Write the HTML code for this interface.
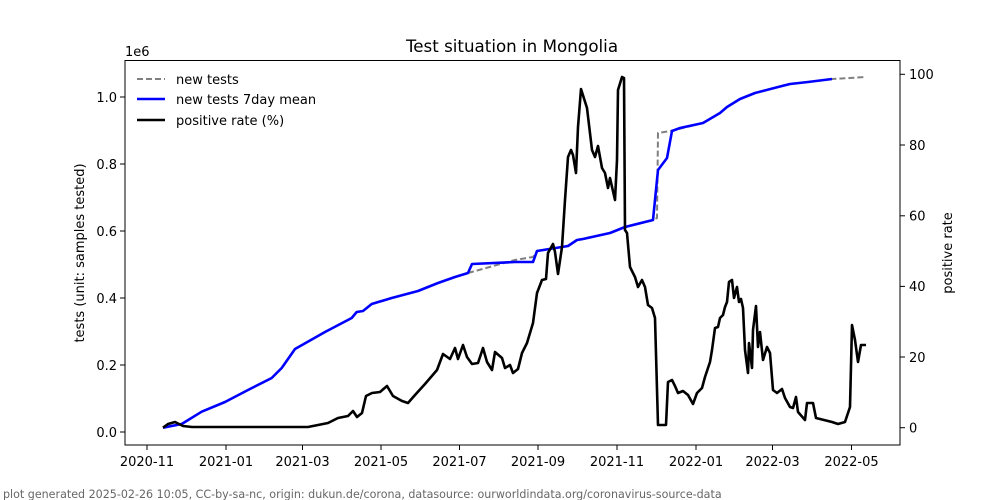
<!DOCTYPE html>
<html><head><meta charset="utf-8"><style>
body{margin:0;background:#fff}
svg{display:block;font-family:"DejaVu Sans","Liberation Sans",sans-serif}
</style></head><body>
<svg width="1000" height="500" viewBox="0 0 1000 500" xmlns="http://www.w3.org/2000/svg">
<rect width="1000" height="500" fill="#fff"/>
<text x="512" y="52" font-size="16.7" text-anchor="middle">Test situation in Mongolia</text>
<text x="125" y="56" font-size="13">1e6</text>
<polyline fill="none" stroke="#808080" stroke-width="2" stroke-dasharray="6,3" points="468,273 515,260 533,257 537,251 568,246 577,240 610,233 625,227 653,220 657,218 658,133 670,131 675,130 703,123 720,113 727,107 740,99 755,93 782,86 790,84 808,82 832,79 850,78 865,77"/>
<polyline fill="none" stroke="#0000ff" stroke-width="2.6" stroke-linejoin="round" points="163,427.7 181.7,424 201.7,411.7 225,402 248,390 271.7,378 281.7,368 295,349 325,332 351.7,318 356.7,312 363,311 371.7,304 391.7,298 418,291 438,283 455,277 468,273 472,264 515,262 533,262 537,251 568,246 577,240 583,239 610,233 625,227 653,220 658,170 667,158 672,131 680,128 703,123 720,113 727,107 740,99 755,93 782,86 790,84 808,82 832,79"/>
<polyline fill="none" stroke="#000" stroke-width="2.6" stroke-linejoin="round" points="163,427.7 168,424 175,422 183,426 192,427 258,427 308,427 328,423 338,418 348,416 353,411 357,417 362,413 366,396 372,393 380,392 387,386 393,396 402,401 408,403 415,395 425,384 437,370 443,354 450,359 455,348 458,359 463,345 467,357 472,364 478,363 483,348 487,362 492,370 495,352 502,358 505,368 510,365 513,373 518,369 522,353 527,343 533,323 537,293 542,280 546,279 548,253 553,244 555,252 558,274 562,247 565,200 568,157 571,150 573,155 576,173 578,127 581,89 587,108 592,150 595,157 598,146 602,168 605,173 608,188 610,178 615,200 617,160 618,90 622,77 624,78 625,230 627,233 630,267 635,277 638,287 642,280 645,287 648,305 652,308 655,318 658,425 666,425 668,382 672,380 675,386 678,393 683,391 688,395 693,404 697,393 702,388 705,377 710,362 712,350 715,328 718,327 720,318 723,315 725,307 727,302 729,282 732,280 734,298 737,287 739,302 741,299 743,308 745,350 748,373 749,343 752,368 753,330 756,306 758,347 760,332 763,360 767,347 770,353 773,390 777,393 782,389 785,398 790,407 793,408 796,397 798,412 805,420 807,403 813,403 816,418 832,422 838,424 845,422 850,407 852,325 855,340 858,362 861,345 866,345"/>
<rect x="125" y="60.5" width="775" height="384.5" fill="none" stroke="#000" stroke-width="1"/>
<g stroke="#000" stroke-width="1">
<line x1="120" y1="432" x2="125" y2="432"/><line x1="120" y1="365" x2="125" y2="365"/><line x1="120" y1="298" x2="125" y2="298"/><line x1="120" y1="231" x2="125" y2="231"/><line x1="120" y1="164" x2="125" y2="164"/><line x1="120" y1="97" x2="125" y2="97"/>
<line x1="900" y1="427.7" x2="905" y2="427.7"/><line x1="900" y1="357" x2="905" y2="357"/><line x1="900" y1="286.4" x2="905" y2="286.4"/><line x1="900" y1="215.8" x2="905" y2="215.8"/><line x1="900" y1="145" x2="905" y2="145"/><line x1="900" y1="74.3" x2="905" y2="74.3"/>
<line x1="147" y1="445" x2="147" y2="450"/><line x1="226" y1="445" x2="226" y2="450"/><line x1="302.5" y1="445" x2="302.5" y2="450"/><line x1="381" y1="445" x2="381" y2="450"/><line x1="459.5" y1="445" x2="459.5" y2="450"/><line x1="538" y1="445" x2="538" y2="450"/><line x1="617" y1="445" x2="617" y2="450"/><line x1="696" y1="445" x2="696" y2="450"/><line x1="772.5" y1="445" x2="772.5" y2="450"/><line x1="851.5" y1="445" x2="851.5" y2="450"/>
</g>
<g font-size="13" text-anchor="end">
<text x="117" y="437">0.0</text><text x="117" y="370">0.2</text><text x="117" y="303">0.4</text><text x="117" y="236">0.6</text><text x="117" y="169">0.8</text><text x="117" y="102">1.0</text>
</g>
<g font-size="13">
<text x="909" y="432.5">0</text><text x="909" y="362">20</text><text x="909" y="291">40</text><text x="909" y="220.5">60</text><text x="909" y="150">80</text><text x="909" y="79">100</text>
</g>
<g font-size="13" text-anchor="middle">
<text x="147" y="466">2020-11</text><text x="226" y="466">2021-01</text><text x="302.5" y="466">2021-03</text><text x="381" y="466">2021-05</text><text x="459.5" y="466">2021-07</text><text x="538" y="466">2021-09</text><text x="617" y="466">2021-11</text><text x="696" y="466">2022-01</text><text x="772.5" y="466">2022-03</text><text x="851.5" y="466">2022-05</text>
</g>
<text transform="translate(84,253) rotate(-90)" font-size="13" text-anchor="middle">tests (unit: samples tested)</text>
<text transform="translate(952,253) rotate(-90)" font-size="13" text-anchor="middle">positive rate</text>
<line x1="137" y1="79" x2="165" y2="79" stroke="#808080" stroke-width="2" stroke-dasharray="6,3"/>
<line x1="137" y1="99" x2="165" y2="99" stroke="#0000ff" stroke-width="2.6"/>
<line x1="137" y1="120" x2="165" y2="120" stroke="#000" stroke-width="2.6"/>
<g font-size="13"><text x="176" y="84">new tests</text><text x="176" y="104">new tests 7day mean</text><text x="176" y="125">positive rate (%)</text></g>
<text x="3" y="498" font-size="11.1" fill="#666">plot generated 2025-02-26 10:05, CC-by-sa-nc, origin: dukun.de/corona, datasource: ourworldindata.org/coronavirus-source-data</text>
</svg>
</body></html>
